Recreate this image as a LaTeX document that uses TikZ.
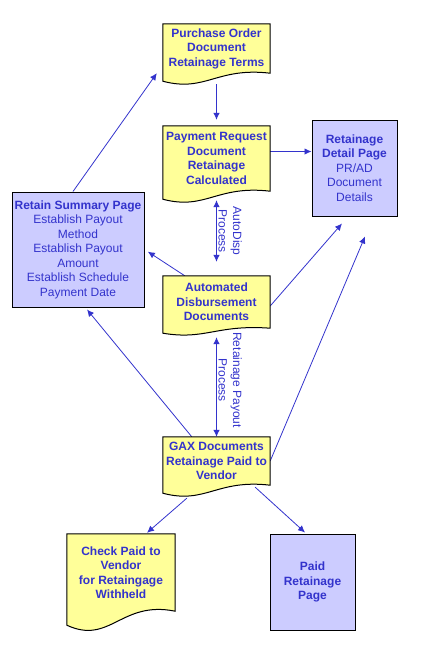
\documentclass[tikz,border=0pt]{standalone}
\usepackage{fontspec}
\setmainfont{Liberation Sans}
\usetikzlibrary{calc,arrows.meta}
\definecolor{docyellow}{HTML}{FFFF99}
\definecolor{pagelilac}{HTML}{CCCCFF}
\definecolor{inkblue}{HTML}{3333CC}
\pgfdeclarelayer{edgelayer}
\pgfdeclarelayer{shapelayer}
\pgfdeclarelayer{nodelayer}
\pgfsetlayers{edgelayer,shapelayer,nodelayer,main}
\tikzstyle{edge}=[draw=inkblue, line width=0.8pt, >={Latex[length=7pt,width=6.5pt]}, ->]
\tikzstyle{doc}=[rectangle, inner sep=0pt, align=center, text=inkblue, font=\fontsize{12}{14.5}\selectfont\bfseries]
\tikzstyle{page}=[rectangle, fill=pagelilac, draw=black, line width=1pt, inner sep=0pt, align=center, text=inkblue, font=\fontsize{12}{14.5}\selectfont]
\tikzstyle{docfill}=[fill=docyellow, draw=black, line width=1pt]
\tikzstyle{proclabel}=[rotate=-90, anchor=south, inner sep=1.5pt, align=center, text=inkblue, font=\fontsize{12}{14.5}\selectfont]
% document outline with a wavy bottom, #2 = depth of the wave
\newcommand{\docshape}[2]{%
  \path[docfill] let \p1=(#1.north west), \p2=(#1.south east) in
    (\x1,\y1) -- (\x2,\y1) -- (\x2,\y2)
    .. controls ({\x1+0.5*(\x2-\x1)},{\y2+0.79*#2pt}) and ({\x1+0.4*(\x2-\x1)},{\y2-2.43*#2pt}) .. (\x1,{\y2-#2pt}) -- cycle;}

\begin{document}
\begin{tikzpicture}[x=1pt, y=-1pt]
  \useasboundingbox (0,0) rectangle (432,648);
  \begin{pgfonlayer}{nodelayer}
    \node [doc, minimum width=107pt, minimum height=49pt] (po) at (216.5, 48.5) {Purchase Order\\Document\\Retainage Terms};
    \node [doc, minimum width=107pt, minimum height=65pt] (pr) at (216.5, 158.5) {Payment Request\\Document\\Retainage\\Calculated};
    \node [page, minimum width=85pt, minimum height=96pt] (detail) at (354.5, 168) {\textbf{Retainage}\\\textbf{Detail Page}\\PR/AD\\Document\\Details};
    \node [page, minimum width=132pt, minimum height=115pt] (summary) at (78, 249.5) {\textbf{Retain Summary Page}\\Establish Payout\\Method\\Establish Payout\\Amount\\Establish Schedule\\Payment Date};
    \node [doc, minimum width=107pt, minimum height=52pt] (ad) at (216.5, 302) {Automated\\Disbursement\\Documents};
    \node [doc, minimum width=107pt, minimum height=48pt] (gax) at (216.5, 461) {GAX Documents\\Retainage Paid to\\Vendor};
    \node [doc, minimum width=108pt, minimum height=77pt] (check) at (121, 572.5) {Check Paid to\\Vendor\\for Retaingage\\Withheld};
    \node [page, minimum width=85pt, minimum height=96pt, font=\fontsize{12}{14.5}\selectfont\bfseries] (paid) at (312.5, 582) {Paid\\Retainage\\Page};
  \end{pgfonlayer}
  \begin{pgfonlayer}{shapelayer}
    \docshape{po}{8}
    \docshape{pr}{8}
    \docshape{ad}{5}
    \docshape{gax}{8}
    \docshape{check}{14}
  \end{pgfonlayer}
  \begin{pgfonlayer}{edgelayer}
    \draw [edge, shorten >=6pt] ([shift={(0,11)}]po.south) to (pr.north);
    \draw [edge] ([shift={(0,-7)}]pr.east) to ([shift={(0,-7)}]pr.east -| detail.west);
    \draw [edge, <->] ([shift={(0,9)}]pr.south) to
      node [proclabel, midway] {AutoDisp\\Process} ([shift={(0,-14)}]ad.north);
    \draw [edge, <->] ([shift={(0,9)}]ad.south) to
      node [proclabel, pos=0.43] {Retainage Payout\\Process} (gax.north);
    \draw [edge] ([shift={(-5,0)}]summary.north) to ([shift={(-6,0)}]po.south west);
    \draw [edge, shorten >=4pt] ([shift={(22,0)}]ad.north west) to (summary.east);
    \draw [edge] ([shift={(0,4)}]ad.east) to ([shift={(-12.5,7)}]detail.south);
    \draw [edge] ([shift={(29,0)}]gax.north west) to ([shift={(9,2)}]summary.south);
    \draw [edge] (gax.east) to ([shift={(10.5,20)}]detail.south);
    \draw [edge] ([shift={(24,13)}]gax.south west) to ([shift={(26,-1)}]check.north);
    \draw [edge] ([shift={(-15,2)}]gax.south east) to ([shift={(-7.5,-1)}]paid.north);
  \end{pgfonlayer}
\end{tikzpicture}
\end{document}
